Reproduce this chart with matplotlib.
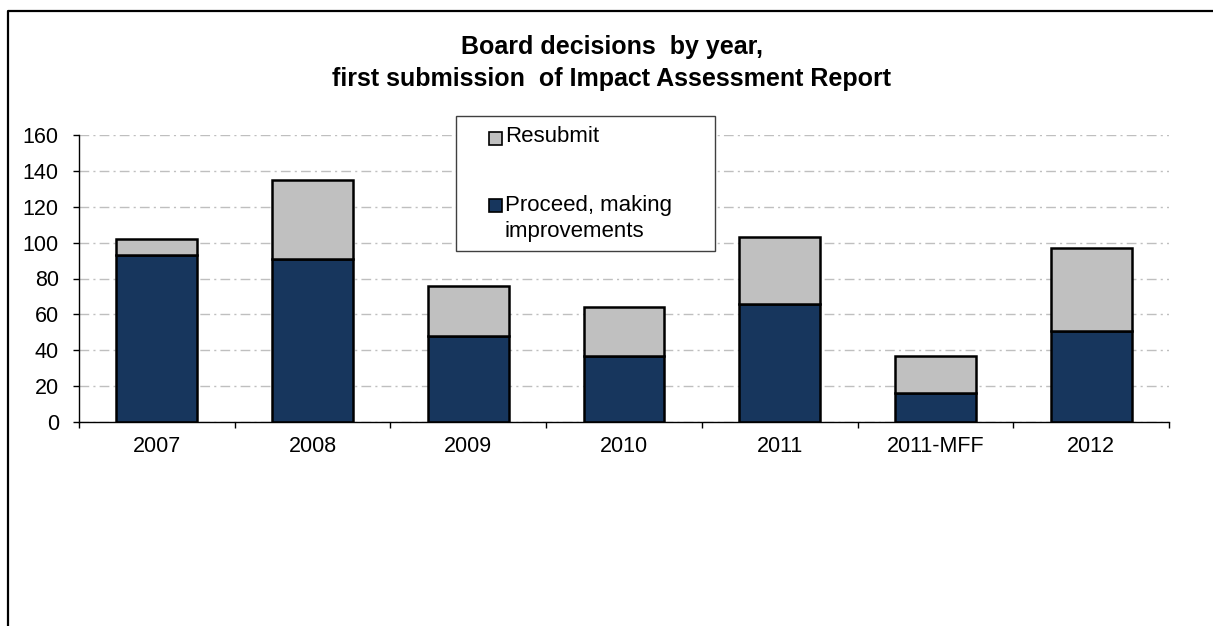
import matplotlib.pyplot as plt
import numpy as np
from matplotlib.patches import Rectangle
from matplotlib.lines import Line2D

plt.rcParams['font.family'] = ['Liberation Sans', 'DejaVu Sans']

# first-submission decisions per year
years = ['2007', '2008', '2009', '2010', '2011', '2011-MFF', '2012']
proceed = [93, 91, 48, 37, 66, 16, 51]
resubmit = [9, 44, 28, 27, 37, 21, 46]

navy = '#17365d'
grey = '#c0c0c0'

W, H = 1213, 626
fig = plt.figure(figsize=(W / 100, H / 100), dpi=100)
ax = fig.add_axes([79 / W, 1 - 422 / H, (1169 - 79) / W, (422 - 135) / H])

x = np.arange(len(years))
ax.bar(x, proceed, width=0.52, color=navy, edgecolor='black', linewidth=1.8, zorder=3)
ax.bar(x, resubmit, width=0.52, bottom=proceed, color=grey, edgecolor='black',
       linewidth=1.8, zorder=3)

ax.set_xlim(-0.5, len(years) - 0.5)
ax.set_ylim(0, 160)
ax.set_yticks(np.arange(0, 161, 20))
ax.set_xticks(x)
ax.set_xticklabels(years)
ax.set_xticks(np.arange(-0.5, len(years), 1), minor=True)
ax.tick_params(axis='x', which='major', length=0, pad=10, labelsize=15.5)
ax.tick_params(axis='x', which='minor', length=4, width=1, direction='out')
ax.tick_params(axis='y', length=4.5, width=1, pad=10, labelsize=15.5)

for side in ['top', 'right']:
    ax.spines[side].set_visible(False)
for side in ['left', 'bottom']:
    ax.spines[side].set_linewidth(1)
    ax.spines[side].set_zorder(4)

ax.yaxis.grid(True, color='#bfbfbf', linewidth=1, linestyle=(0, (7, 3, 1.5, 3)), zorder=0)

fig.text(612 / W, 1 - 47 / H, 'Board decisions  by year,', ha='center', va='center',
         fontsize=18, fontweight='bold')
fig.text(612 / W, 1 - 79 / H, 'first submission  of Impact Assessment Report', ha='center',
         va='center', fontsize=18, fontweight='bold')

# legend box
def px(xp, yp):
    return xp / W, 1 - yp / H

fig.patches.append(Rectangle(px(456, 251), (715 - 456) / W, (251 - 116) / H,
                             transform=fig.transFigure, facecolor='white',
                             edgecolor='#404040', linewidth=1, zorder=5))
sq = 13
for col, yc in [(grey, 138), (navy, 205)]:
    fig.patches.append(Rectangle(px(489, yc + sq / 2), sq / W, sq / H,
                                 transform=fig.transFigure, facecolor=col,
                                 edgecolor='black', linewidth=1.2, zorder=6))
fig.text(505 / W, 1 - 137 / H, 'Resubmit', va='center', fontsize=16, zorder=6)
fig.text(505 / W, 1 - 205 / H, 'Proceed, making', va='center', fontsize=16, zorder=6)
fig.text(505 / W, 1 - 232 / H, 'improvements', va='center', fontsize=16, zorder=6)

# outer frame
fig.add_artist(Line2D([7.5 / W, 7.5 / W, 1], [0, 1 - 10.5 / H, 1 - 10.5 / H],
                      transform=fig.transFigure, color='black', linewidth=1.6))

plt.savefig('out.png', dpi=100)
